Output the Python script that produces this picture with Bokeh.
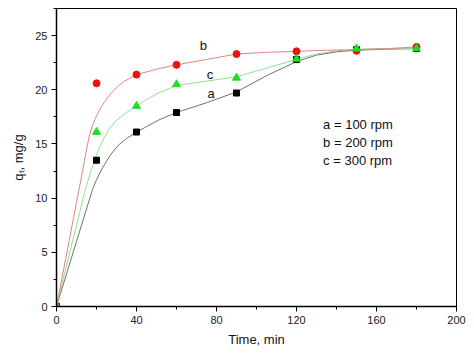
from bokeh.plotting import figure
from bokeh.models import Range1d, Label, SingleIntervalTicker
from bokeh.core.properties import value
from bokeh.embed import file_html
from bokeh.resources import INLINE

# measured data (min, mg/g)
time = [0, 20, 40, 60, 90, 120, 150, 180]
q_a = [0, 13.5, 16.1, 17.9, 19.7, 22.8, 23.7, 23.8]   # 100 rpm
q_b = [0, 20.6, 21.4, 22.3, 23.3, 23.55, 23.6, 23.95]  # 200 rpm
q_c = [0, 16.1, 18.5, 20.5, 21.1, 22.85, 23.8, 23.8]  # 300 rpm

# fitted curves
fit_a_x = [0, 5, 10, 15, 18, 20, 23, 27, 31, 35, 40, 45, 51, 60, 75, 90, 105, 120, 130, 140, 150, 165, 180]
fit_a_y = [0, 3.0, 6.0, 9.0, 10.8, 11.7, 12.8, 14.0, 14.9, 15.5, 16.1, 16.6, 17.2, 17.9, 18.8, 19.8, 21.3, 22.6, 23.2, 23.5, 23.65, 23.75, 23.8]
fit_b_x = [0, 5, 10, 12, 14, 16, 17, 18, 20, 22, 24, 27, 30, 34, 40, 50, 60, 75, 90, 105, 120, 135, 150, 165, 180]
fit_b_y = [0, 4.8, 9.6, 11.5, 13.5, 15.4, 16.1, 16.7, 17.6, 18.3, 18.9, 19.6, 20.2, 20.8, 21.4, 21.9, 22.3, 22.8, 23.3, 23.45, 23.55, 23.65, 23.7, 23.8, 23.95]
fit_c_x = [0, 5, 10, 14, 17, 20, 23, 26, 30, 35, 40, 45, 51, 60, 75, 90, 105, 120, 130, 140, 150, 165, 180]
fit_c_y = [0, 3.8, 7.5, 10.5, 12.4, 14.0, 15.3, 16.3, 17.2, 17.9, 18.5, 19.1, 19.7, 20.4, 20.8, 21.2, 22.0, 22.8, 23.3, 23.6, 23.75, 23.8, 23.8]

curve_letters = ["b", "c", "a"]
letter_x = [73.4, 76.8, 77.3]
letter_y = [24.1, 21.4, 19.7]
legend_lines = ["a = 100 rpm", "b = 200 rpm", "c = 300 rpm"]
legend_y = [16.8, 15.1, 13.5]

FONT = "Liberation Sans"

p = figure(width=466, height=352, output_backend="svg", toolbar_location=None,
           x_range=Range1d(0, 200), y_range=Range1d(0, 27.5),
           min_border_left=56, min_border_right=10, min_border_top=8, min_border_bottom=46)
p.grid.visible = False
p.outline_line_color = "black"
p.outline_line_width = 1
p.background_fill_color = "white"

for ax in (p.xaxis[0], p.yaxis[0]):
    ax.axis_line_color = "black"
    ax.axis_line_width = 1.5
    ax.major_tick_line_color = "black"
    ax.minor_tick_line_color = "black"
    ax.major_tick_out = 5
    ax.major_tick_in = 0
    ax.minor_tick_out = 3
    ax.minor_tick_in = 0
    ax.major_label_text_font = FONT
    ax.major_label_text_font_size = "11px"
    ax.major_label_text_color = "#222222"
    ax.major_label_standoff = 4
    ax.axis_label_text_font = FONT
    ax.axis_label_text_font_style = "normal"
    ax.axis_label_text_font_size = "13px"
    ax.axis_label_text_color = "#111111"

p.xaxis.ticker = SingleIntervalTicker(interval=40, num_minor_ticks=2)
p.yaxis.ticker = SingleIntervalTicker(interval=5, num_minor_ticks=2)
p.xaxis.axis_label = "Time, min"
p.xaxis.axis_label_standoff = 5
p.yaxis.axis_label = "q\u209c, mg/g"
p.yaxis.axis_label_standoff = 6

p.line(fit_a_x, fit_a_y, line_color="#707070", line_width=1)
p.line(fit_c_x, fit_c_y, line_color="#8fe08f", line_width=1)
p.line(fit_b_x, fit_b_y, line_color="#e08585", line_width=1)

p.scatter(time, q_a, marker="square", size=6, fill_color="black", line_color="black")
p.scatter(time, q_b, marker="circle", size=7, fill_color="#ee1111", line_color="#ee1111")
p.scatter(time, q_c, marker="triangle", size=8, fill_color="#22dd22", line_color="#22dd22")

p.text(x=letter_x, y=letter_y, text=curve_letters, text_font=value(FONT), text_font_size="13px",
       text_align="center", text_baseline="middle", text_color="#111111")
for t, yy in zip(legend_lines, legend_y):
    p.add_layout(Label(x=133.3, y=yy, text=t, text_font=FONT, text_font_size="13px",
                       text_baseline="middle", text_color="#111111"))

open("out.html", "w").write(file_html(p, INLINE))
